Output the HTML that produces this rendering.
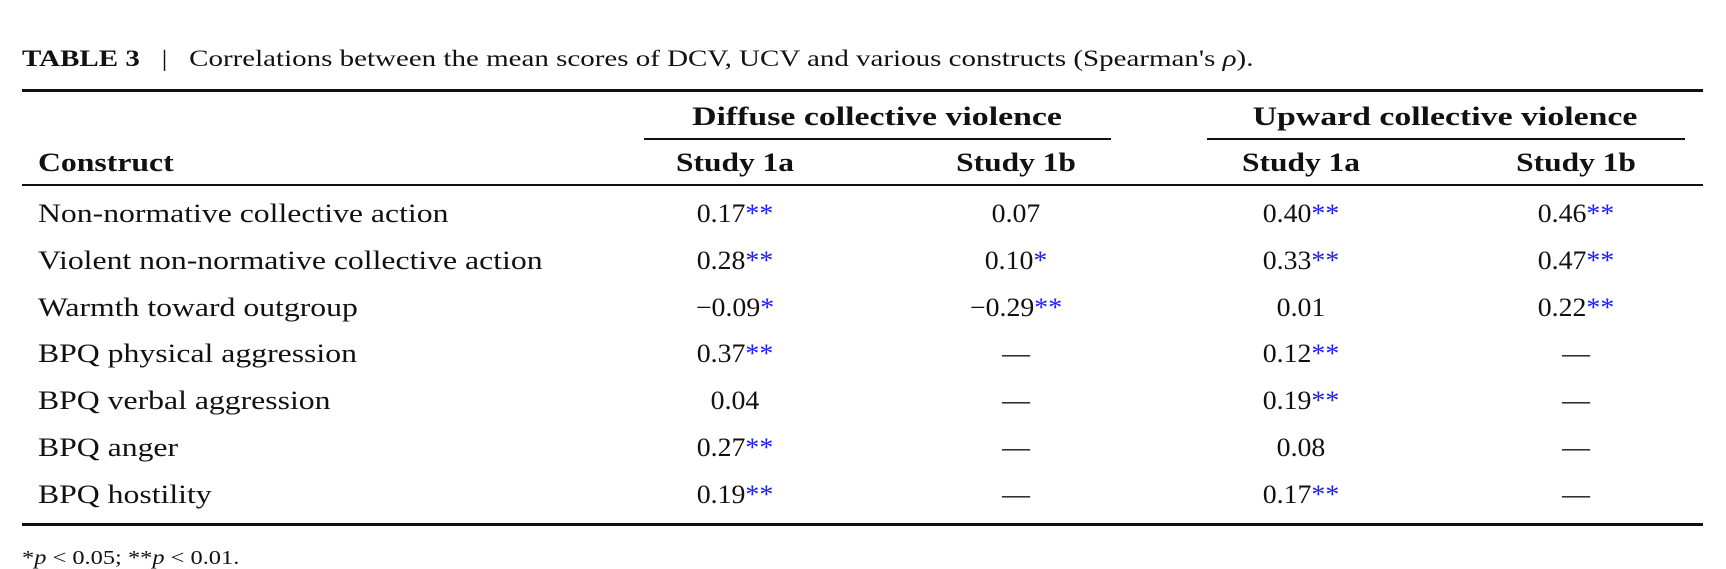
<!DOCTYPE html>
<html><head><meta charset="utf-8"><style>
body{margin:0;width:1726px;height:550px;background:#fff;position:relative;overflow:hidden;font-family:"Liberation Serif",serif;color:#111}
.t{position:absolute;white-space:nowrap;line-height:1;transform-origin:left center;transform:scaleX(1.22)}
.c{transform-origin:center center;transform:translateX(-50%) scaleX(1.07)}
.h{transform:translateX(-50%) scaleX(1.21)}
.g{transform:translateX(-50%) scaleX(1.3)}
.b{font-weight:bold}
.r{position:absolute;background:#111}
s{text-decoration:none;color:#1a1aff}
</style></head><body>
<div class="t" style="left:22px;top:47px;font-size:23px;transform:scaleX(1.26)"><span class="b">TABLE 3</span>&nbsp;&nbsp;&nbsp;|&nbsp;&nbsp;&nbsp;Correlations between the mean scores of DCV, UCV and various constructs (Spearman's <i>ρ</i>).</div>
<div class="r" style="left:22px;top:89px;width:1681px;height:3px"></div>
<div class="t b c g" style="left:877px;top:104px;font-size:26px">Diffuse collective violence</div>
<div class="t b c g" style="left:1445px;top:104px;font-size:26px">Upward collective violence</div>
<div class="r" style="left:644px;top:138px;width:467px;height:1.5px"></div>
<div class="r" style="left:1207px;top:138px;width:478px;height:1.5px"></div>
<div class="t b" style="left:38px;top:150px;font-size:26px">Construct</div>
<div class="t b c h" style="left:735px;top:150px;font-size:26px">Study 1a</div>
<div class="t b c h" style="left:1016px;top:150px;font-size:26px">Study 1b</div>
<div class="t b c h" style="left:1301px;top:150px;font-size:26px">Study 1a</div>
<div class="t b c h" style="left:1576px;top:150px;font-size:26px">Study 1b</div>
<div class="r" style="left:22px;top:184px;width:1681px;height:1.5px"></div>
<div style="font-size:26px">
<div class="t" style="left:38px;top:201px">Non-normative collective action</div>
<div class="t c" style="left:735px;top:201px">0.17<s>**</s></div>
<div class="t c" style="left:1016px;top:201px">0.07</div>
<div class="t c" style="left:1301px;top:201px">0.40<s>**</s></div>
<div class="t c" style="left:1576px;top:201px">0.46<s>**</s></div>
<div class="t" style="left:38px;top:248px">Violent non-normative collective action</div>
<div class="t c" style="left:735px;top:248px">0.28<s>**</s></div>
<div class="t c" style="left:1016px;top:248px">0.10<s>*</s></div>
<div class="t c" style="left:1301px;top:248px">0.33<s>**</s></div>
<div class="t c" style="left:1576px;top:248px">0.47<s>**</s></div>
<div class="t" style="left:38px;top:295px">Warmth toward outgroup</div>
<div class="t c" style="left:735px;top:295px">−0.09<s>*</s></div>
<div class="t c" style="left:1016px;top:295px">−0.29<s>**</s></div>
<div class="t c" style="left:1301px;top:295px">0.01</div>
<div class="t c" style="left:1576px;top:295px">0.22<s>**</s></div>
<div class="t" style="left:38px;top:341px">BPQ physical aggression</div>
<div class="t c" style="left:735px;top:341px">0.37<s>**</s></div>
<div class="t c" style="left:1016px;top:341px">—</div>
<div class="t c" style="left:1301px;top:341px">0.12<s>**</s></div>
<div class="t c" style="left:1576px;top:341px">—</div>
<div class="t" style="left:38px;top:388px">BPQ verbal aggression</div>
<div class="t c" style="left:735px;top:388px">0.04</div>
<div class="t c" style="left:1016px;top:388px">—</div>
<div class="t c" style="left:1301px;top:388px">0.19<s>**</s></div>
<div class="t c" style="left:1576px;top:388px">—</div>
<div class="t" style="left:38px;top:435px">BPQ anger</div>
<div class="t c" style="left:735px;top:435px">0.27<s>**</s></div>
<div class="t c" style="left:1016px;top:435px">—</div>
<div class="t c" style="left:1301px;top:435px">0.08</div>
<div class="t c" style="left:1576px;top:435px">—</div>
<div class="t" style="left:38px;top:482px">BPQ hostility</div>
<div class="t c" style="left:735px;top:482px">0.19<s>**</s></div>
<div class="t c" style="left:1016px;top:482px">—</div>
<div class="t c" style="left:1301px;top:482px">0.17<s>**</s></div>
<div class="t c" style="left:1576px;top:482px">—</div>
</div>
<div class="r" style="left:22px;top:523px;width:1681px;height:3px"></div>
<div class="t" style="left:22px;top:548px;font-size:20px">*<i>p</i> &lt; 0.05; **<i>p</i> &lt; 0.01.</div>
</body></html>
